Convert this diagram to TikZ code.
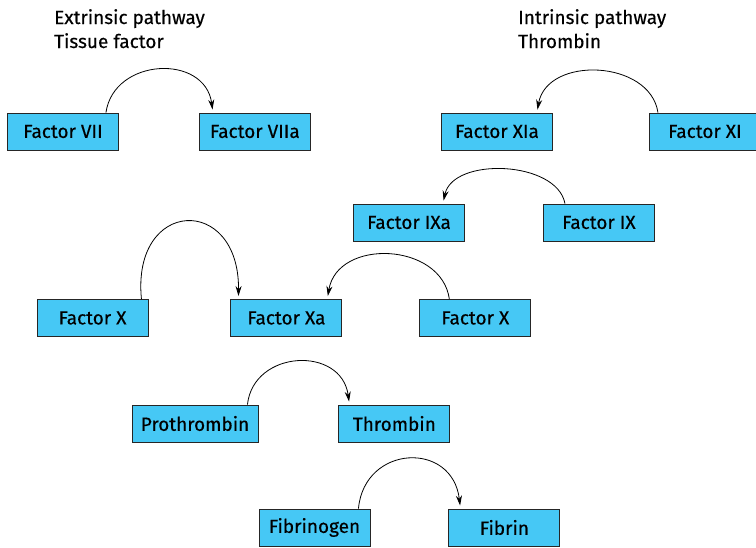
\documentclass[tikz,border=0pt]{standalone}
\usepackage{fontspec}
\setmainfont{Fira Sans}[BoldFont={Fira Sans}, BoldFeatures={FakeBold=0.35}]
\usepackage{tikz}
\usetikzlibrary{positioning, arrows.meta}

\definecolor{factorblue}{RGB}{70,200,245}

\begin{document}
\begin{tikzpicture}[
			x=1pt, y=1pt,
			node distance=80pt,
			factor/.style={rectangle, draw=black!85, line width=0.9pt, fill=factorblue,
				minimum width=111pt, minimum height=37pt, inner sep=2pt,
				font=\fontsize{19}{23}\selectfont\bfseries},
			heading/.style={anchor=north west, align=left, inner sep=0pt,
				font=\fontsize{19}{24}\selectfont\bfseries},
			conv/.style={line width=0.8pt, shorten >=3pt},
			>={Stealth[length=10pt, width=6pt]}
			]
			\useasboundingbox (0,0) rectangle (756,548);
			
			% Titoli delle due vie
			\node[heading] (extr) at (54,539) {Extrinsic pathway\\Tissue factor};
			\node[heading] (intr) at (518,539) {Intrinsic pathway\\Thrombin};
			
			% Via estrinseca
			\node[factor] (vii) at (63,416.5) {Factor VII};
			\node[factor] (viia) [right=80pt of vii] {Factor VIIa};
			\draw[conv, ->] ([xshift=-13pt]vii.north east) .. controls +(8,55) and +(-8,59) .. ([xshift=14pt]viia.north west);
			
			% Via intrinseca
			\node[factor] (xia) at (497,416.5) {Factor XIa};
			\node[factor] (xi) [right=96pt of xia] {Factor XI};
			\draw[conv, ->] ([xshift=9pt]xi.north west) .. controls +(-8,53) and +(10,57) .. ([xshift=-16pt]xia.north east);
			
			\node[factor] (ixa) at (409,325.5) {Factor IXa};
			\node[factor] (ix) [right=78pt of ixa] {Factor IX};
			\draw[conv, ->] ([xshift=22pt]ix.north west) .. controls +(-8,43) and +(10,47) .. ([xshift=-22pt]ixa.north east);
			
			% Fattore X
			\node[factor] (xl) at (92.5,230) {Factor X};
			\node[factor] (xa) [right=82pt of xl] {Factor Xa};
			\node[factor] (xr) [right=77pt of xa] {Factor X};
			\draw[conv, ->] ([xshift=-7pt]xl.north east) .. controls +(-10,101) and +(1,105) .. ([xshift=8pt]xa.north west);
			\draw[conv, ->] ([xshift=30pt]xr.north west) .. controls +(-8,57) and +(10,61) .. ([xshift=-15pt]xa.north east);
			
			% Protrombina
			\node[factor, minimum width=126pt] (prothr) at (195,124.5) {Prothrombin};
			\node[factor] (thr) [right=80pt of prothr] {Thrombin};
			\draw[conv, ->] ([xshift=-11pt]prothr.north east) .. controls +(6,55) and +(-8,59) .. ([xshift=11pt]thr.north west);
			
			% Fibrinogeno
			\node[factor] (fibgen) at (314.5,20.5) {Fibrinogen};
			\node[factor] (fib) [right=78pt of fibgen] {Fibrin};
			\draw[conv, ->] ([xshift=-12pt]fibgen.north east) .. controls +(6,64) and +(-8,68) .. ([xshift=12pt]fib.north west);
			
		\end{tikzpicture}
\end{document}
